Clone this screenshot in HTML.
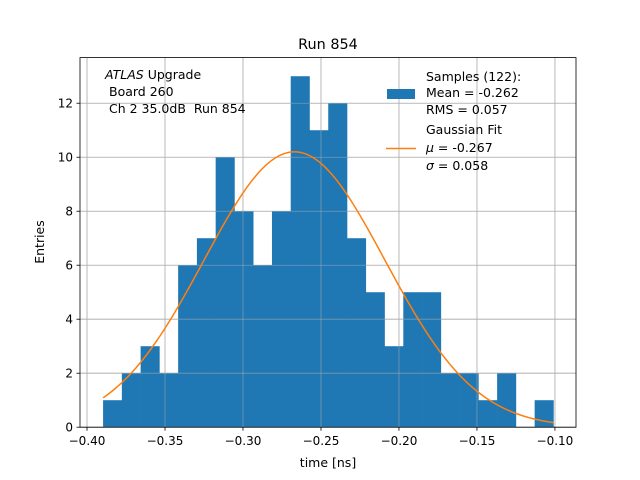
<!DOCTYPE html>
<html><head><meta charset="utf-8"><style>
body{margin:0;background:#fff;}
svg{display:block;font-family:"DejaVu Sans","Liberation Sans",sans-serif;}
</style></head><body>
<svg id="chart" width="640" height="480" viewBox="0 0 640 480">
<rect width="640" height="480" fill="#fff"/>
<g id="grid"></g>
<g id="bars"></g>
<g id="gridTop"></g>
<path id="fit" fill="none" stroke="#ff7f0e" stroke-width="1.5"/>
<rect x="80" y="57.6" width="496" height="369.6" fill="none" stroke="#000" stroke-width="0.8"/>
<g id="ticks"></g>
<text x="328" y="49" font-size="14.4" text-anchor="middle">Run 854</text>
<text x="328" y="467" font-size="12.5" text-anchor="middle">time [ns]</text>
<text x="44" y="242" font-size="12.5" text-anchor="middle" transform="rotate(-90 44 242)">Entries</text>
<g font-size="12.5">
<text x="105" y="79"><tspan font-style="italic">ATLAS</tspan> Upgrade</text>
<text x="109" y="96">Board 260</text>
<text x="109" y="113">Ch 2 35.0dB&#160;&#160;Run 854</text>
</g>
<g font-size="12.5">
<rect x="387" y="89" width="28" height="10" fill="#1f77b4"/>
<text x="426" y="81">Samples (122):</text>
<text x="426" y="97">Mean = -0.262</text>
<text x="426" y="114">RMS = 0.057</text>
<line x1="386" y1="148.5" x2="416" y2="148.5" stroke="#ff7f0e" stroke-width="1.5"/>
<text x="426" y="134">Gaussian Fit</text>
<text x="426" y="152"><tspan font-style="italic">μ</tspan> = -0.267</text>
<text x="426" y="170"><tspan font-style="italic">σ</tspan> = 0.058</text>
</g>
</svg>
<script>
const counts=[1,2,3,2,6,7,10,8,6,8,13,11,12,7,5,3,5,5,2,2,1,2,0,1];
const binStart=-0.3897;
const binWidth=0.01203;
const fitAmp=10.2;
const fitMu=-0.267;
const fitSigma=0.058;
const xTicks=[-0.40,-0.35,-0.30,-0.25,-0.20,-0.15,-0.10];
const yTicks=[0,2,4,6,8,10,12];
const NS="http://www.w3.org/2000/svg";
const X0=80,X1=576,Y0=427.2,Y1=57.6;
const xmin=-0.4045,xmax=-0.0865,ymin=0,ymax=13.69;
const sx=v=>X0+(v-xmin)/(xmax-xmin)*(X1-X0);
const sy=v=>Y0-(v-ymin)/(ymax-ymin)*(Y0-Y1);
function mk(tag,attrs,parent){const e=document.createElementNS(NS,tag);for(const k in attrs)e.setAttribute(k,attrs[k]);parent.appendChild(e);return e;}
const grid=document.getElementById('grid'),ticks=document.getElementById('ticks'),bars=document.getElementById('bars');
xTicks.forEach(t=>{const x=sx(t);
 const g=mk('line',{x1:x,x2:x,y1:Y1,y2:Y0,stroke:'#b0b0b0','stroke-width':0.8},grid);
 
 
 mk('line',{x1:x,x2:x,y1:Y0,y2:Y0+3.5,stroke:'#000','stroke-width':0.8},ticks);
 const tx=mk('text',{x:x,y:Y0+18,'font-size':12,'text-anchor':'middle'},ticks);
 tx.textContent=t.toFixed(2).replace('-','\u2212');
 
 
});
yTicks.forEach(t=>{const y=sy(t);
 const g=mk('line',{x1:X0,x2:X1,y1:y,y2:y,stroke:'#b0b0b0','stroke-width':0.8},grid);
 
 
 mk('line',{x1:X0-3.5,x2:X0,y1:y,y2:y,stroke:'#000','stroke-width':0.8},ticks);
 const tx=mk('text',{x:X0-7,y:y+4.5,'font-size':12,'text-anchor':'end'},ticks);
 tx.textContent=t;
 
 
});
counts.forEach((c,i)=>{if(!c)return;const a=sx(binStart+i*binWidth),b=sx(binStart+(i+1)*binWidth);
 const r=mk('rect',{x:a,y:sy(c),width:b-a+0.3,height:sy(0)-sy(c),fill:'#1f77b4'},bars);
 
 
});
const gt=document.getElementById('gridTop');
grid.querySelectorAll('line').forEach(l=>{const c=l.cloneNode();c.setAttribute('stroke-opacity','0.6');gt.appendChild(c);});
const lo=binStart,hi=binStart+counts.length*binWidth;let d='';
for(let k=0;k<=200;k++){const v=lo+(hi-lo)*k/200;const y=fitAmp*Math.exp(-0.5*((v-fitMu)/fitSigma)**2);d+=(k?'L':'M')+sx(v).toFixed(2)+','+sy(y).toFixed(2);}
document.getElementById('fit').setAttribute('d',d);
</script>
</body></html>
